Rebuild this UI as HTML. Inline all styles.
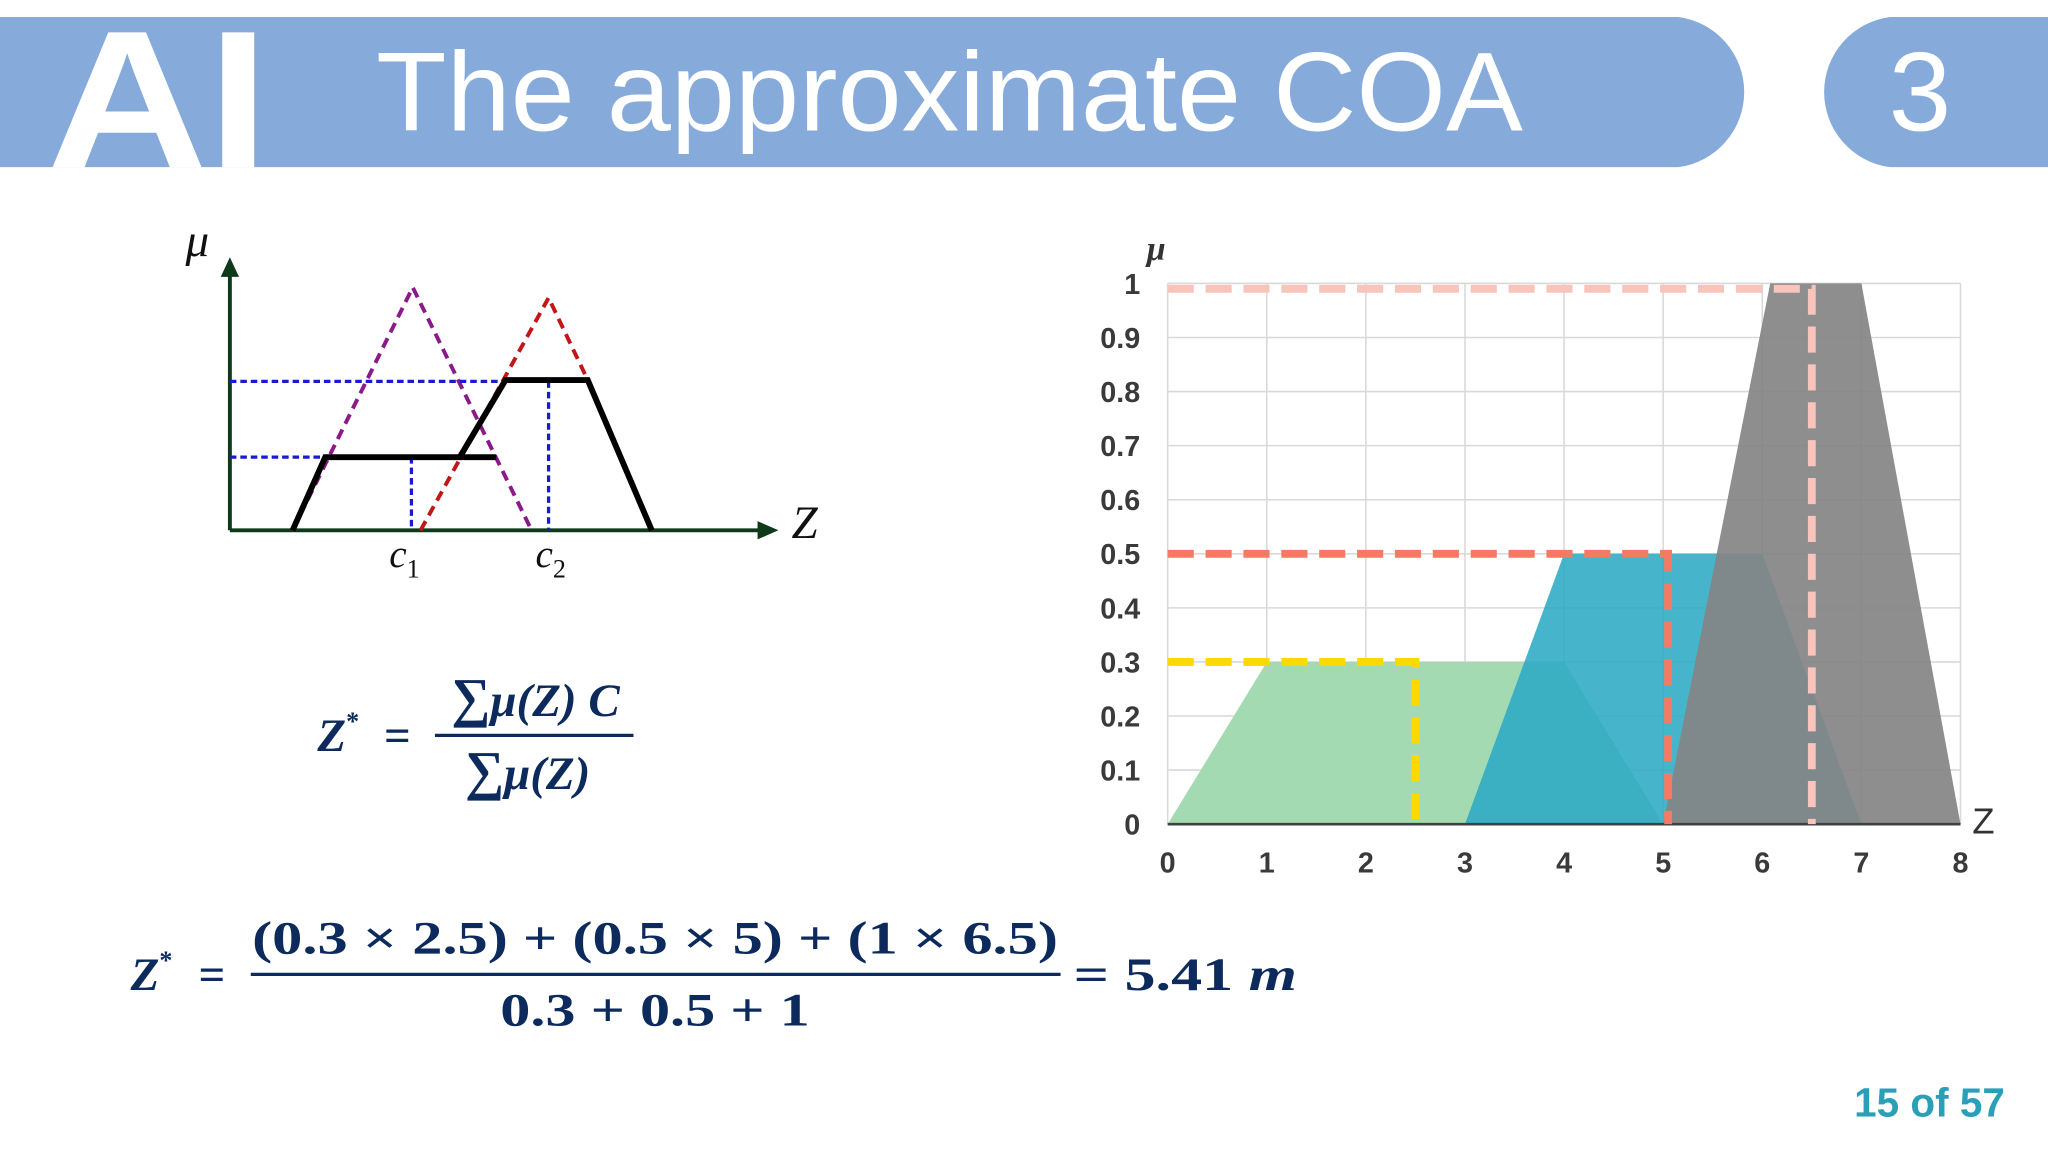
<!DOCTYPE html>
<html><head><meta charset="utf-8"><style>
html,body{margin:0;padding:0;background:#fff;}
svg{display:block;}
.tk{font-family:"Liberation Sans Narrow","Liberation Sans",sans-serif;font-weight:bold;font-size:22px;fill:#3a3a3a;}
.math{font-family:"Liberation Serif","DejaVu Serif",serif;font-weight:bold;fill:#0d2a5c;}
</style></head><body>
<svg id="root" width="2048" height="1152" viewBox="0 0 1568 882" xmlns="http://www.w3.org/2000/svg">
  <g>
    <path d="M0 13 H1285 A58 58 0 0 1 1285 128 H0 Z" fill="#86abdb"/>
    <path d="M1568 13 H1447 A58 58 0 0 0 1447 128 H1568 Z" fill="#86abdb"/>
    <text x="36" y="128" font-family="Liberation Sans, sans-serif" font-weight="bold" font-size="150" fill="#fff" textLength="170" lengthAdjust="spacingAndGlyphs">AI</text>
    <text x="288" y="100" font-family="Liberation Sans, sans-serif" font-size="86" fill="#fff" textLength="878" lengthAdjust="spacingAndGlyphs">The approximate COA</text>
    <text x="1470" y="100" text-anchor="middle" font-family="Liberation Sans, sans-serif" font-size="86" fill="#fff">3</text>
  </g>

  <g>
    <line x1="176" y1="406" x2="176" y2="210" stroke="#0f3a1a" stroke-width="3"/>
    <polygon points="176,197 169,212 183,212" fill="#0f3a1a"/>
    <line x1="176" y1="406" x2="582" y2="406" stroke="#0f3a1a" stroke-width="3"/>
    <polygon points="596,406 580,399 580,413" fill="#0f3a1a"/>
    <text x="142" y="196" font-family="Liberation Serif, serif" font-style="italic" font-size="36" fill="#111">μ</text>
    <text x="606" y="412" font-family="Liberation Serif, serif" font-style="italic" font-size="36" fill="#111">Z</text>
    <polyline points="224,406 316,220 407,406" fill="none" stroke="#8a1a8a" stroke-width="3" stroke-dasharray="8,5"/>
    <polyline points="322,406 420,228 450,291" fill="none" stroke="#c01818" stroke-width="3" stroke-dasharray="8,5"/>
    <path d="M176 292 H387 M176 350 H249 M315 350 V406 M420 292 V406" stroke="#1a1ad0" stroke-width="2.5" stroke-dasharray="5,3" fill="none"/>
    <polyline points="224,406 249,350 380,350" fill="none" stroke="#000" stroke-width="4.5"/>
    <polyline points="352,350 387,291 450,291 499,406" fill="none" stroke="#000" stroke-width="4.5"/>
    <text x="298" y="434" font-family="Liberation Serif, serif" font-style="italic" font-size="30" fill="#111">c<tspan font-style="normal" font-size="20" dy="8">1</tspan></text>
    <text x="410" y="434" font-family="Liberation Serif, serif" font-style="italic" font-size="30" fill="#111">c<tspan font-style="normal" font-size="20" dy="8">2</tspan></text>
  </g>

  <g>
    <text class="math" x="243" y="575" font-size="36" font-style="italic">Z<tspan font-size="20" dy="-16" font-style="normal">*</tspan></text>
    <text class="math" x="294" y="575" font-size="36">=</text>
    <text class="math" x="410" y="548" font-size="36" font-style="italic" text-anchor="middle"><tspan font-size="42">∑</tspan>μ(Z) C</text>
    <line x1="333" y1="563" x2="485" y2="563" stroke="#0d2a5c" stroke-width="2.5"/>
    <text class="math" x="404" y="604" font-size="36" font-style="italic" text-anchor="middle"><tspan font-size="42">∑</tspan>μ(Z)</text>
  </g>

  <g>
    <text class="math" x="100" y="758" font-size="36" font-style="italic">Z<tspan font-size="20" dy="-16" font-style="normal">*</tspan></text>
    <text class="math" x="152" y="758" font-size="36">=</text>
    <text class="math" x="193" y="730" font-size="36" textLength="617" lengthAdjust="spacingAndGlyphs">(0.3 × 2.5) + (0.5 × 5) + (1 × 6.5)</text>
    <line x1="192" y1="746" x2="812" y2="746" stroke="#0d2a5c" stroke-width="2.5"/>
    <text class="math" x="383" y="785" font-size="36" textLength="237" lengthAdjust="spacingAndGlyphs">0.3 + 0.5 + 1</text>
    <text class="math" x="822" y="758" font-size="36" textLength="171" lengthAdjust="spacingAndGlyphs">= 5.41 <tspan font-style="italic">m</tspan></text>
  </g>

  <text x="1535" y="855" text-anchor="end" font-family="Liberation Sans, sans-serif" font-weight="bold" font-size="31" fill="#2aa0b8">15 of 57</text>

  <g id="chart"></g>
</svg>
<script>
const xTicks = [0,1,2,3,4,5,6,7,8];
const yTicks = [0,0.1,0.2,0.3,0.4,0.5,0.6,0.7,0.8,0.9,1];
const yTickLabels = ["0","0.1","0.2","0.3","0.4","0.5","0.6","0.7","0.8","0.9","1"];
const setNames = ["green-set","teal-set","gray-set"];
const setX = [[0,1,4,5],[3,4,6,7],[5,6.08,7,8]];
const setHeights = [0.3,0.5,1];
const centroids = [2.5,5.05,6.5];
const clipLevels = [0.3,0.5,0.99];

const X0=894,X1=1501,Y0=631,Y1=217;
const sx=v=>X0+(X1-X0)*v/8;
const sy=v=>Y0-(Y0-Y1)*v;
const NS="http://www.w3.org/2000/svg";
const g=document.getElementById('chart');
function mk(tag,attrs){const e=document.createElementNS(NS,tag);for(const k in attrs)e.setAttribute(k,attrs[k]);g.appendChild(e);return e;}

yTicks.forEach((t,i)=>{
  const l=mk('line',{x1:X0,x2:X1,y1:sy(t),y2:sy(t),stroke:'#d9d9d9','stroke-width':1.2});
  
  
  const tx=mk('text',{x:873,y:sy(t)+8,'text-anchor':'end',class:'tk'});
  tx.textContent=yTickLabels[i];
  
  
});
xTicks.forEach(t=>{
  const l=mk('line',{x1:sx(t),x2:sx(t),y1:Y1,y2:Y0,stroke:'#d9d9d9','stroke-width':1.2});
  
  
  const tx=mk('text',{x:sx(t),y:668,'text-anchor':'middle',class:'tk'});
  tx.textContent=String(t);
  
  
});
const fills=['#a3dab2','#2aaac4','#848484'];
const ops=[1,0.87,0.92];
setX.forEach((xs,i)=>{
  const h=setHeights[i];
  const pts=[[xs[0],0],[xs[1],h],[xs[2],h],[xs[3],0]].map(p=>sx(p[0])+','+sy(p[1])).join(' ');
  const p=mk('polygon',{points:pts,fill:fills[i],'fill-opacity':ops[i]});
  
  
});
const base=mk('line',{x1:X0,x2:X1,y1:Y0,y2:Y0,stroke:'#404040','stroke-width':2});


const dcol=['#ffd800','#f47a64','#f8c4bc'];
centroids.forEach((c,i)=>{
  const lv=clipLevels[i];
  const p=mk('path',{d:`M${sx(0)} ${sy(lv)} H${sx(c)} V${sy(0)}`,fill:'none',stroke:dcol[i],'stroke-width':6,'stroke-dasharray':'20,9'});
  
  
});
const mu=mk('text',{x:878,y:199,'font-family':'Liberation Serif, serif','font-style':'italic','font-weight':'bold','font-size':26,fill:'#333'});
mu.textContent='μ';


const zt=mk('text',{x:1510,y:638,'font-family':'Liberation Sans, sans-serif','font-size':28,fill:'#333'});
zt.textContent='Z';


</script>
</body></html>
